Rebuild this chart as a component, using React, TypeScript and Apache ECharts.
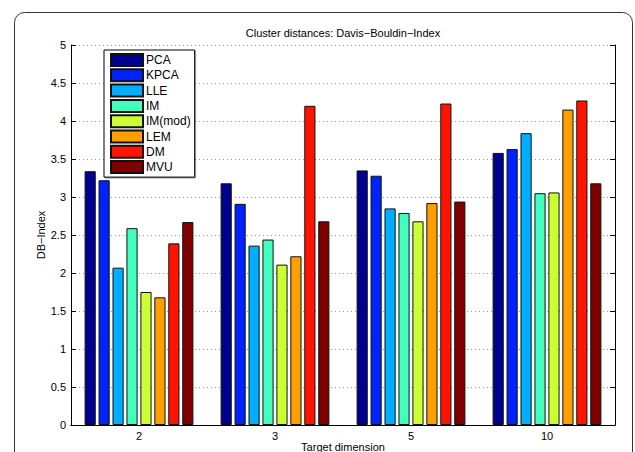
import React, { useEffect, useRef } from "react";
import * as echarts from "echarts";

const categories = ["2", "3", "5", "10"];
const methods = ["PCA", "KPCA", "LLE", "IM", "IM(mod)", "LEM", "DM", "MVU"];
const colors = ["#00008F", "#0022FF", "#00AEFF", "#42FFBE", "#CCFF33", "#FFA000", "#FF1400", "#800000"];
const values: number[][] = [
  [3.34, 3.18, 3.35, 3.58],
  [3.22, 2.91, 3.28, 3.63],
  [2.07, 2.36, 2.85, 3.84],
  [2.59, 2.44, 2.79, 3.05],
  [1.75, 2.11, 2.68, 3.06],
  [1.68, 2.22, 2.92, 4.15],
  [2.39, 4.2, 4.23, 4.27],
  [2.67, 2.68, 2.94, 3.18],
];
const yTicks = [0, 0.5, 1, 1.5, 2, 2.5, 3, 3.5, 4, 4.5, 5];

const FONT = "Liberation Sans, Arial, Helvetica, sans-serif";

export default function App() {
  const ref = useRef<HTMLDivElement>(null);
  useEffect(() => {
    if (!ref.current) return;
    const chart = echarts.init(ref.current, undefined, { renderer: "svg" });
    const option: any = {
      animation: false,
      backgroundColor: "#fff",
      textStyle: { fontFamily: FONT },
      title: {
        text: "Cluster distances: Davis\u2212Bouldin\u2212Index",
        left: 343,
        textAlign: "center",
        top: 27,
        padding: 0,
        textStyle: { fontSize: 11, fontWeight: "normal", color: "#000", fontFamily: FONT },
      },
      grid: {
        left: 71,
        top: 45,
        width: 544,
        height: 380,
        containLabel: false,
        outerBoundsMode: "none",
      },
      legend: {
        orient: "vertical",
        left: 104,
        top: 50,
        itemWidth: 32,
        itemHeight: 12,
        itemGap: 1.3,
        padding: [3, 4, 3, 6],
        borderColor: "#000",
        borderWidth: 1,
        backgroundColor: "#fff",
        shadowColor: "rgba(0,0,0,0.35)",
        shadowOffsetX: 1,
        shadowOffsetY: 1,
        shadowBlur: 0,
        icon: "rect",
        textStyle: { fontSize: 12, color: "#000", fontFamily: FONT, padding: [0, 0, 0, -2] },
        data: methods,
      },
      xAxis: [
        {
          type: "category",
          data: categories,
          position: "bottom",
          name: "Target dimension",
          nameLocation: "middle",
          nameGap: 16,
          nameMoveOverlap: false,
          nameTextStyle: { fontSize: 11, color: "#000", fontFamily: FONT },
          axisLine: { lineStyle: { color: "#000", width: 1 } },
          axisTick: { inside: true, length: 5, alignWithLabel: true, lineStyle: { color: "#000" } },
          axisLabel: { fontSize: 11, color: "#000", margin: 5, fontFamily: FONT },
          splitLine: { show: false },
        },
        {
          type: "category",
          data: categories,
          position: "top",
          axisLine: { lineStyle: { color: "#000", width: 1 } },
          axisTick: { inside: true, length: 5, alignWithLabel: true, lineStyle: { color: "#000" } },
          axisLabel: { show: false },
          splitLine: { show: false },
        },
      ],
      yAxis: [
        {
          type: "value",
          min: 0,
          max: 5,
          interval: 0.5,
          name: "DB\u2212Index",
          nameLocation: "middle",
          nameGap: 25,
          nameMoveOverlap: false,
          nameTextStyle: { fontSize: 11, color: "#000", fontFamily: FONT },
          axisLine: { show: true, lineStyle: { color: "#000", width: 1 } },
          axisTick: { show: true, inside: true, length: 5, lineStyle: { color: "#000" } },
          axisLabel: {
            fontSize: 11,
            color: "#000",
            margin: 5,
            fontFamily: FONT,
            formatter: (v: number) => (yTicks.includes(v) ? String(v) : ""),
          },
          splitLine: { show: true, lineStyle: { color: "#999", type: [1, 3], width: 1 } },
        },
        {
          type: "value",
          min: 0,
          max: 5,
          interval: 0.5,
          position: "right",
          axisLine: { show: true, lineStyle: { color: "#000", width: 1 } },
          axisTick: { show: true, inside: true, length: 5, lineStyle: { color: "#000" } },
          axisLabel: { show: false },
          splitLine: { show: false },
        },
      ],
      graphic: [
        {
          type: "rect",
          shape: { x: 14.5, y: 12.5, width: 618, height: 470, r: 10 },
          style: { fill: "none", stroke: "#333", lineWidth: 1 },
          silent: true,
          z: -10,
        },
      ],
      series: methods.map((m, i) => ({
        name: m,
        type: "bar",
        xAxisIndex: 0,
        yAxisIndex: 0,
        data: values[i],
        barGap: "25%",
        barCategoryGap: "20%",
        itemStyle: { color: colors[i], borderColor: "#111", borderWidth: 1 },
        z: 2,
      })),
    };
    chart.setOption(option);
    return () => chart.dispose();
  }, []);
  return (
    <div
      ref={ref}
      style={{ position: "fixed", left: 0, top: 0, width: 635, height: 452 }}
    />
  );
}
